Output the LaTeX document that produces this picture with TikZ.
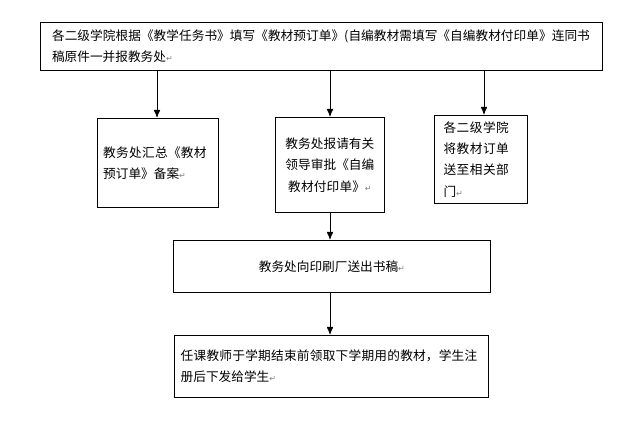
\documentclass[tikz,border=0pt]{standalone}
\usepackage{fontspec}
\setmainfont{Noto Sans CJK SC}
\newfontfamily\retfont{DejaVu Sans}
\XeTeXlinebreaklocale "zh"
\XeTeXlinebreakskip=0pt plus 1pt
\usetikzlibrary{arrows.meta,positioning}
\newcommand{\ret}{{\retfont\color{gray}\fontsize{6}{6}\selectfont\symbol{"21B5}}}
\begin{document}
\begin{tikzpicture}[x=0.75pt,y=-0.75pt,
    every node/.style={
        rectangle,
        draw,
        semithick,
        inner sep=4pt,
        font=\fontsize{9.5}{16}\selectfont
    },
    flow/.style={-{Latex[length=6pt,width=5pt]}, semithick}
]
    \useasboundingbox (0,0) rectangle (640,441);

    \node (submit) [anchor=north west, minimum width=421.5pt, minimum height=36pt, text width=404pt, align=left, inner ysep=2pt] at (40,22)
    {
        各二级学院根据《教学任务书》填写《教材预订单》(自编教材需填写《自编教材付印单》连同书稿原件一并报教务处\ret
    };

    \node (archive) [anchor=north west, minimum width=90.75pt, minimum height=66.75pt, text width=82pt, align=left] at (97,118)
    {
        教务处汇总《教材预订单》备案\ret
    };
    \node (approve) [anchor=north west, minimum width=81.75pt, minimum height=71.25pt, text width=68pt, align=center] at (275,117)
    {
        教务处报请有关领导审批《自编教材付印单》\ret
    };
    \node (send_order) [anchor=north west, minimum width=69.75pt, minimum height=66pt, text width=56pt, align=left] at (434,115)
    {
        各二级学院将教材订单送至相关部门\ret
    };

    \node (print) [anchor=north west, minimum width=237.75pt, minimum height=39pt] at (173,240)
    {
        教务处向印刷厂送出书稿\ret
    };

    \node (collect) [anchor=north west, minimum width=235.5pt, minimum height=46.5pt, text width=226pt, align=left] at (174,335)
    {
        任课教师于学期结束前领取下学期用的教材，学生注册后下发给学生\ret
    };

    \draw[flow] (157,70) -- (archive.north -| 157,0);
    \draw[flow] (330,70) -- (approve.north -| 330,0);
    \draw[flow] (484,70) -- (send_order.north -| 484,0);
    \draw[flow] (approve.south -| 330,0) -- (print.north -| 330,0);
    \draw[flow] (print.south -| 330,0) -- (collect.north -| 330,0);
\end{tikzpicture}
\end{document}
